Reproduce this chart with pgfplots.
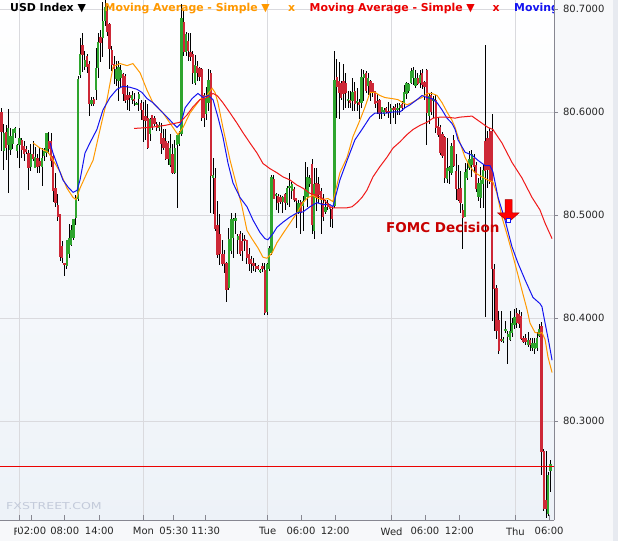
\documentclass[border=0pt]{standalone}
\usepackage{pgfplots}
\pgfplotsset{compat=1.18}
\usepackage{pgfplotstable}
\usepackage{graphicx}
\usepackage{fontspec}
\setmainfont{DejaVu Sans}

\definecolor{cgreen}{RGB}{46,165,46}
\definecolor{cred}{RGB}{205,40,55}
\definecolor{maorange}{RGB}{255,153,0}
\definecolor{mablue}{RGB}{20,20,240}
\definecolor{mared}{RGB}{240,25,25}
\definecolor{legred}{RGB}{235,0,0}
\definecolor{gridc}{RGB}{218,218,222}
\definecolor{axisc}{RGB}{135,135,145}
\definecolor{fomc}{RGB}{200,0,0}
\definecolor{wm}{RGB}{195,202,218}
\definecolor{outerbg}{RGB}{247,248,250}
\definecolor{stripc}{RGB}{231,234,240}
\definecolor{bgbot}{RGB}{237,242,248}
\definecolor{arrowdark}{RGB}{170,0,0}

\pgfplotstableread{
x o h l c
0 80.600 80.604 80.563 80.581
1 80.563 80.589 80.544 80.581
2 80.580 80.587 80.553 80.565
3 80.568 80.604 80.522 80.584
4 80.563 80.584 80.558 80.576
5 80.570 80.585 80.566 80.584
6 80.580 80.586 80.576 80.584
7 80.563 80.570 80.556 80.568
8 80.568 80.585 80.547 80.575
9 80.573 80.576 80.556 80.563
10 80.568 80.573 80.553 80.561
11 80.566 80.568 80.561 80.563
12 80.561 80.563 80.524 80.546
13 80.547 80.570 80.544 80.560
14 80.561 80.573 80.553 80.556
15 80.547 80.566 80.546 80.558
16 80.556 80.560 80.541 80.548
17 80.553 80.566 80.541 80.548
18 80.548 80.566 80.529 80.556
19 80.558 80.566 80.553 80.563
20 80.560 80.580 80.556 80.580
21 80.573 80.581 80.560 80.565
22 80.573 80.580 80.547 80.553
23 80.558 80.560 80.513 80.524
24 80.527 80.541 80.508 80.512
25 80.510 80.521 80.495 80.498
26 80.500 80.502 80.456 80.459
27 80.471 80.476 80.454 80.459
28 80.453 80.454 80.442 80.451
29 80.451 80.476 80.449 80.476
30 80.463 80.492 80.459 80.478
31 80.471 80.490 80.469 80.485
32 80.478 80.497 80.476 80.497
33 80.498 80.521 80.492 80.517
34 80.517 80.636 80.515 80.633
35 80.636 80.672 80.633 80.657
36 80.665 80.677 80.639 80.655
37 80.645 80.660 80.642 80.652
38 80.655 80.658 80.639 80.645
39 80.648 80.650 80.597 80.609
40 80.609 80.616 80.607 80.613
41 80.614 80.616 80.607 80.609
42 80.621 80.663 80.612 80.643
43 80.643 80.678 80.634 80.668
44 80.674 80.681 80.650 80.668
45 80.672 80.706 80.653 80.689
46 80.689 80.709 80.684 80.702
47 80.699 80.704 80.675 80.678
48 80.686 80.687 80.642 80.662
49 80.662 80.665 80.641 80.647
50 80.648 80.655 80.628 80.643
51 80.633 80.650 80.626 80.643
52 80.631 80.650 80.612 80.645
53 80.634 80.647 80.626 80.642
54 80.638 80.639 80.612 80.619
55 80.636 80.638 80.610 80.612
56 80.617 80.626 80.602 80.613
57 80.617 80.621 80.602 80.614
58 80.612 80.621 80.609 80.616
59 80.614 80.619 80.607 80.612
60 80.608 80.610 80.607 80.609
61 80.614 80.621 80.602 80.619
62 80.609 80.612 80.592 80.602
63 80.602 80.609 80.570 80.592
64 80.597 80.612 80.573 80.592
65 80.595 80.609 80.565 80.566
66 80.580 80.595 80.573 80.595
67 80.597 80.598 80.583 80.585
68 80.595 80.597 80.587 80.589
69 80.589 80.592 80.583 80.585
70 80.585 80.592 80.583 80.588
71 80.581 80.590 80.560 80.570
72 80.575 80.583 80.563 80.566
73 80.573 80.583 80.553 80.556
74 80.570 80.573 80.550 80.555
75 80.550 80.580 80.548 80.566
76 80.560 80.570 80.541 80.542
77 80.541 80.573 80.540 80.566
78 80.568 80.578 80.507 80.578
79 80.570 80.583 80.568 80.580
80 80.580 80.706 80.578 80.692
81 80.689 80.699 80.655 80.660
82 80.660 80.678 80.655 80.677
83 80.670 80.677 80.650 80.660
84 80.660 80.678 80.650 80.655
85 80.657 80.660 80.628 80.638
86 80.629 80.657 80.628 80.647
87 80.645 80.650 80.631 80.638
88 80.643 80.645 80.631 80.634
89 80.642 80.643 80.592 80.595
90 80.616 80.618 80.585 80.594
91 80.599 80.624 80.592 80.614
92 80.609 80.643 80.602 80.631
93 80.639 80.641 80.502 80.539
94 80.536 80.556 80.502 80.539
95 80.537 80.547 80.485 80.488
96 80.492 80.515 80.459 80.463
97 80.482 80.502 80.453 80.463
98 80.463 80.476 80.451 80.453
99 80.463 80.466 80.444 80.453
100 80.453 80.456 80.417 80.427
101 80.430 80.487 80.427 80.478
102 80.466 80.502 80.463 80.497
103 80.478 80.498 80.459 80.497
104 80.495 80.502 80.482 80.498
105 80.476 80.483 80.463 80.480
106 80.482 80.485 80.461 80.463
107 80.476 80.483 80.456 80.466
108 80.478 80.482 80.466 80.476
109 80.476 80.477 80.453 80.459
110 80.463 80.469 80.447 80.453
111 80.459 80.460 80.444 80.454
112 80.454 80.459 80.447 80.451
113 80.451 80.454 80.445 80.449
114 80.450 80.452 80.447 80.448
115 80.446 80.448 80.444 80.447
116 80.450 80.453 80.445 80.448
117 80.447 80.453 80.403 80.405
118 80.406 80.454 80.403 80.453
119 80.449 80.471 80.447 80.469
120 80.463 80.539 80.461 80.536
121 80.536 80.539 80.516 80.517
122 80.519 80.521 80.505 80.521
123 80.519 80.521 80.502 80.512
124 80.517 80.519 80.510 80.512
125 80.512 80.519 80.502 80.517
126 80.521 80.522 80.505 80.512
127 80.512 80.529 80.510 80.527
128 80.527 80.541 80.508 80.529
129 80.524 80.532 80.516 80.531
130 80.527 80.529 80.515 80.516
131 80.516 80.517 80.488 80.513
132 80.503 80.516 80.502 80.513
133 80.513 80.515 80.482 80.502
134 80.510 80.519 80.485 80.515
135 80.516 80.551 80.515 80.527
136 80.517 80.547 80.508 80.537
137 80.531 80.539 80.527 80.537
138 80.551 80.555 80.483 80.492
139 80.485 80.547 80.478 80.531
140 80.532 80.547 80.505 80.517
141 80.532 80.537 80.512 80.521
142 80.524 80.527 80.483 80.515
143 80.513 80.521 80.495 80.500
144 80.503 80.516 80.502 80.508
145 80.512 80.515 80.505 80.508
146 80.508 80.508 80.488 80.506
147 80.507 80.510 80.488 80.497
148 80.508 80.660 80.507 80.631
149 80.634 80.652 80.595 80.624
150 80.631 80.650 80.595 80.619
151 80.629 80.631 80.612 80.614
152 80.631 80.647 80.602 80.618
153 80.628 80.639 80.605 80.618
154 80.612 80.621 80.605 80.614
155 80.613 80.621 80.605 80.610
156 80.612 80.634 80.602 80.621
157 80.621 80.631 80.602 80.609
158 80.610 80.624 80.602 80.612
159 80.610 80.614 80.595 80.607
160 80.609 80.643 80.605 80.634
161 80.634 80.642 80.612 80.638
162 80.639 80.641 80.619 80.621
163 80.626 80.639 80.618 80.634
164 80.631 80.633 80.612 80.619
165 80.629 80.629 80.616 80.619
166 80.621 80.621 80.605 80.609
167 80.612 80.618 80.599 80.610
168 80.613 80.614 80.595 80.599
169 80.599 80.604 80.595 80.604
170 80.599 80.605 80.597 80.602
171 80.604 80.605 80.599 80.600
172 80.602 80.609 80.594 80.600
173 80.600 80.609 80.589 80.604
174 80.604 80.607 80.595 80.602
175 80.605 80.609 80.589 80.602
176 80.604 80.610 80.599 80.605
177 80.604 80.609 80.597 80.607
178 80.609 80.612 80.602 80.605
179 80.609 80.628 80.605 80.619
180 80.618 80.631 80.614 80.629
181 80.621 80.629 80.619 80.628
182 80.629 80.643 80.628 80.641
183 80.634 80.645 80.628 80.642
184 80.626 80.641 80.624 80.634
185 80.634 80.638 80.626 80.628
186 80.628 80.641 80.624 80.636
187 80.639 80.642 80.623 80.628
188 80.631 80.631 80.612 80.626
189 80.641 80.642 80.568 80.599
190 80.597 80.619 80.590 80.616
191 80.616 80.619 80.597 80.600
192 80.612 80.616 80.595 80.614
193 80.613 80.618 80.581 80.585
194 80.587 80.594 80.576 80.578
195 80.585 80.587 80.558 80.560
196 80.580 80.581 80.556 80.558
197 80.576 80.578 80.532 80.536
198 80.536 80.576 80.532 80.547
199 80.544 80.548 80.531 80.548
200 80.542 80.570 80.539 80.568
201 80.573 80.578 80.547 80.548
202 80.544 80.560 80.516 80.527
203 80.527 80.550 80.515 80.517
204 80.527 80.544 80.503 80.512
205 80.505 80.512 80.468 80.498
206 80.500 80.550 80.498 80.544
207 80.537 80.550 80.534 80.546
208 80.547 80.563 80.544 80.555
209 80.550 80.563 80.537 80.560
210 80.556 80.560 80.542 80.547
211 80.550 80.553 80.524 80.527
212 80.517 80.537 80.515 80.531
213 80.517 80.547 80.507 80.534
214 80.531 80.550 80.508 80.544
215 80.573 80.665 80.401 80.544
216 80.575 80.583 80.527 80.544
217 80.583 80.585 80.531 80.534
218 80.583 80.599 80.398 80.449
219 80.449 80.453 80.388 80.429
220 80.430 80.434 80.381 80.388
221 80.400 80.408 80.367 80.369
222 80.381 80.408 80.378 80.379
223 80.379 80.383 80.377 80.380
224 80.388 80.398 80.386 80.390
225 80.382 80.388 80.356 80.385
226 80.380 80.408 80.379 80.388
227 80.385 80.401 80.383 80.395
228 80.393 80.410 80.390 80.401
229 80.406 80.411 80.391 80.396
230 80.405 80.408 80.391 80.395
231 80.403 80.406 80.379 80.381
232 80.381 80.383 80.376 80.377
233 80.381 80.384 80.374 80.377
234 80.374 80.386 80.372 80.379
235 80.379 80.382 80.369 80.374
236 80.371 80.382 80.369 80.376
237 80.371 80.382 80.366 80.377
238 80.372 80.388 80.369 80.382
239 80.384 80.395 80.382 80.391
240 80.393 80.398 80.249 80.270
241 80.272 80.274 80.214 80.216
242 80.223 80.272 80.207 80.215
243 80.211 80.252 80.209 80.249
244 80.252 80.264 80.233 80.259
}\candles

\begin{document}
\begin{tikzpicture}
\useasboundingbox (0pt,-21pt) rectangle (618pt,520pt);
\fill[outerbg] (0pt,-21pt) rectangle (618pt,520pt);
\fill[stripc] (612.5pt,-21pt) rectangle (618pt,520pt);
% Friday label (partly covered by the 02:00 label, as in the original)
\node[anchor=north, inner sep=0pt, text=black!85, font=\fontsize{10}{12}\selectfont] at (19.5pt,-7.3pt) {Fri};
\begin{axis}[
  at={(0pt,0pt)}, anchor=south west,
  scale only axis, width=554pt, height=520pt,
  xmin=-0.667, xmax=245.56, ymin=80.2039, ymax=80.7087,
  axis x line*=bottom, axis y line*=right,
  axis line style={draw=axisc, line width=0.8pt},
  axis background/.style={top color=white, bottom color=bgbot},
  tick align=outside, major tick length=4pt,
  ytick={80.3,80.4,80.5,80.6,80.7},
  ytick style={draw=axisc, line width=0.8pt},
  xtick style={draw=none},
  scaled y ticks=false,
  yticklabel style={/pgf/number format/.cd, fixed, fixed zerofill, precision=4, assume math mode=true, /tikz/.cd, xshift=1.5pt},
  tick label style={font=\fontsize{10}{12}\selectfont, text=black!85},
  xtick={13.47,28.13,43.5,76.6,90.7,133.1,148.3,188.2,203.5,243.4},
  xticklabels={02:00,08:00,14:00,05:30,11:30,06:00,12:00,06:00,12:00,06:00},
  xticklabel style={fill=outerbg, inner xsep=0.5pt},
  extra x ticks={8.0,63.1,118.3,173.4,228.4},
  extra x tick labels={,Mon,Tue,Wed,Thu},
  extra x tick style={grid=major, tick style={draw=none}},
  ymajorgrids=true,
  major grid style={draw=gridc, line width=0.8pt},
  clip=true,
]
% small x ticks pointing up
\foreach \t in {8.0,13.47,28.13,43.5,63.1,76.6,90.7,118.3,133.1,148.3,173.4,188.2,203.5,228.4,243.4}{
  \edef\temp{\noexpand\draw[axisc, line width=0.8pt] (axis cs:\t,80.2039) -- (axis cs:\t,80.2088);}
  \temp
}
% wicks
\addplot[draw=none, mark=none, error bars/.cd, y dir=both, y explicit, error mark=none,
  error bar style={draw=black, line width=0.85pt}]
  table[x=x, y expr={(\thisrow{h}+\thisrow{l})/2}, y error expr={(\thisrow{h}-\thisrow{l})/2}] {\candles};
% up bodies
\addplot[draw=none, mark=none, restrict y to domain=80:81, error bars/.cd, y dir=both, y explicit, error mark=none,
  error bar style={draw=cgreen, line width=2.1pt}]
  table[x=x, y expr={\thisrow{c}>=\thisrow{o} ? (\thisrow{o}+\thisrow{c})/2 : 0}, y error expr={max(abs(\thisrow{c}-\thisrow{o})/2,0.0006)}] {\candles};
% down bodies
\addplot[draw=none, mark=none, restrict y to domain=80:81, error bars/.cd, y dir=both, y explicit, error mark=none,
  error bar style={draw=cred, line width=2.1pt}]
  table[x=x, y expr={\thisrow{c}<\thisrow{o} ? (\thisrow{o}+\thisrow{c})/2 : 0}, y error expr={max(abs(\thisrow{c}-\thisrow{o})/2,0.0006)}] {\candles};
% moving averages
\addplot[maorange, line width=1pt, mark=none] coordinates {
(14.0,80.570) (17.1,80.565) (20.7,80.561) (23.8,80.550) (26.0,80.542) (29.1,80.526) (31.8,80.517) (33.1,80.515) (34.9,80.526) (38.0,80.541) (40.7,80.553) (43.8,80.583) (46.9,80.612) (49.6,80.644) (52.7,80.647) (55.8,80.645) (58.4,80.647) (61.6,80.638) (64.7,80.621) (67.3,80.609) (71.8,80.599) (76.2,80.585) (78.4,80.578) (80.7,80.585) (83.8,80.599) (88.2,80.612) (91.3,80.616) (93.6,80.623) (94.9,80.619) (96.2,80.609) (98.4,80.585) (101.6,80.553) (104.7,80.527) (106.9,80.508) (109.1,80.485) (111.3,80.477) (114.0,80.468) (116.2,80.459) (118.0,80.458) (120.2,80.463) (122.4,80.473) (125.1,80.482) (128.2,80.492) (131.3,80.502) (134.0,80.512) (136.2,80.517) (138.4,80.519) (140.7,80.516) (142.9,80.515) (145.1,80.516) (147.3,80.513) (148.2,80.521) (150.4,80.541) (153.6,80.556) (156.2,80.576) (159.3,80.592) (161.6,80.605) (163.8,80.619) (166.0,80.619) (168.2,80.616) (170.4,80.614) (173.6,80.613) (176.2,80.612) (178.4,80.609) (180.2,80.607) (182.4,80.609) (184.7,80.612) (186.9,80.614) (189.1,80.618) (191.3,80.618) (193.6,80.616) (195.8,80.609) (198.0,80.600) (200.2,80.592) (201.6,80.585) (203.8,80.570) (206.0,80.556) (208.2,80.547) (210.4,80.541) (213.6,80.537) (216.2,80.534) (218.4,80.532) (220.2,80.521) (222.4,80.498) (225.1,80.478) (228.2,80.453) (231.3,80.427) (233.6,80.408) (234.9,80.395) (237.1,80.386) (239.3,80.385) (240.2,80.386) (241.6,80.379) (242.9,80.362) (244.7,80.347)
};
\addplot[mablue, line width=1pt, mark=none] coordinates {
(21.6,80.570) (22.9,80.560) (25.1,80.547) (27.3,80.534) (29.6,80.527) (31.8,80.522) (33.6,80.524) (34.9,80.534) (37.1,80.560) (39.3,80.570) (42.4,80.583) (45.1,80.602) (48.2,80.614) (51.3,80.622) (54.0,80.625) (57.1,80.624) (60.2,80.622) (62.4,80.619) (64.7,80.613) (67.3,80.609) (70.4,80.602) (73.6,80.595) (76.2,80.589) (78.0,80.585) (79.8,80.589) (81.6,80.604) (84.7,80.613) (87.3,80.618) (89.6,80.614) (91.8,80.616) (94.0,80.612) (96.2,80.595) (98.4,80.576) (100.7,80.550) (102.9,80.531) (106.0,80.517) (109.1,80.508) (111.8,80.495) (114.9,80.483) (117.1,80.477) (118.4,80.476) (120.7,80.482) (122.4,80.488) (125.1,80.493) (128.2,80.498) (131.3,80.502) (134.0,80.503) (137.1,80.508) (140.2,80.512) (142.9,80.510) (146.0,80.510) (147.3,80.508) (150.4,80.534) (153.6,80.553) (157.1,80.573) (160.2,80.583) (163.8,80.595) (166.0,80.599) (168.2,80.599) (171.3,80.599) (174.0,80.600) (177.1,80.600) (179.3,80.604) (181.6,80.607) (184.7,80.612) (186.9,80.616) (189.1,80.614) (191.3,80.613) (193.6,80.609) (195.8,80.602) (198.0,80.594) (200.2,80.589) (201.6,80.583) (202.9,80.573) (206.0,80.561) (209.1,80.558) (211.8,80.553) (214.9,80.548) (217.1,80.548) (218.4,80.542) (220.7,80.517) (223.8,80.495) (226.9,80.469) (229.6,80.453) (232.7,80.437) (236.2,80.420) (239.3,80.414) (240.2,80.411) (241.6,80.395) (243.3,80.376) (244.7,80.359)
};
\addplot[mared, line width=1pt, mark=none] coordinates {
(58.9,80.584) (66.0,80.585) (72.7,80.587) (79.3,80.590) (82.4,80.597) (85.1,80.605) (88.2,80.612) (91.3,80.614) (94.0,80.618) (95.8,80.616) (98.4,80.609) (101.6,80.599) (104.7,80.589) (107.3,80.580) (110.4,80.570) (113.6,80.560) (116.2,80.550) (119.3,80.545) (122.4,80.541) (125.1,80.537) (128.2,80.534) (131.3,80.529) (134.0,80.526) (137.1,80.521) (140.2,80.519) (142.9,80.516) (146.0,80.508) (147.3,80.507) (150.4,80.507) (153.6,80.507) (155.8,80.508) (158.0,80.512) (160.2,80.517) (162.4,80.524) (165.1,80.537) (168.2,80.547) (171.3,80.556) (174.0,80.565) (177.1,80.571) (180.2,80.578) (182.9,80.583) (186.0,80.587) (189.1,80.590) (191.8,80.594) (194.9,80.595) (198.0,80.595) (201.6,80.594) (203.8,80.595) (209.1,80.596) (213.6,80.589) (216.2,80.585) (218.4,80.583) (222.4,80.570) (226.9,80.551) (231.3,80.536) (235.8,80.517) (239.3,80.505) (241.6,80.492) (244.7,80.477)
};
% last price line
\addplot[legred, line width=0.8pt, mark=none] coordinates {(-0.667,80.256) (245.56,80.256)};
% FOMC arrow
\addplot[fill=red, draw=arrowdark, line width=0.5pt, mark=none] coordinates {
(223.8,80.515) (227.0,80.515) (227.0,80.502) (230.0,80.502) (225.4,80.493) (220.5,80.502) (223.8,80.502)
} -- cycle;
\addplot[only marks, mark=square*, mark size=2pt, mark options={draw=mablue, fill=white, line width=0.6pt}] coordinates {(225.1,80.495)};
\end{axis}
% header legend
\begin{scope}
\clip (0pt,0pt) rectangle (553pt,520pt);
\tikzset{lg/.style={anchor=base west, inner sep=0pt, font=\fontsize{10.9}{13}\selectfont\bfseries}}
\node[lg, text=black] at (10pt,508pt) {USD Index ▼};
\node[lg, text=maorange] at (104.5pt,508pt) {Moving Average - Simple ▼};
\node[lg, text=maorange] at (288pt,508pt) {x};
\node[lg, text=legred] at (309.5pt,508pt) {Moving Average - Simple ▼};
\node[lg, text=legred] at (492.5pt,508pt) {x};
\node[lg, text=mablue] at (514pt,508pt) {Moving};
\end{scope}
\node[anchor=base west, inner sep=0pt, text=fomc, font=\fontsize{13.5}{16}\selectfont\bfseries] at (386pt,287.5pt) {FOMC Decision};
\node[anchor=base west, inner sep=0pt, text=wm] at (6pt,10.5pt) {\scalebox{1.32}[1]{\fontsize{9.5}{11}\selectfont FXSTREET.COM}};
\end{tikzpicture}
\end{document}
